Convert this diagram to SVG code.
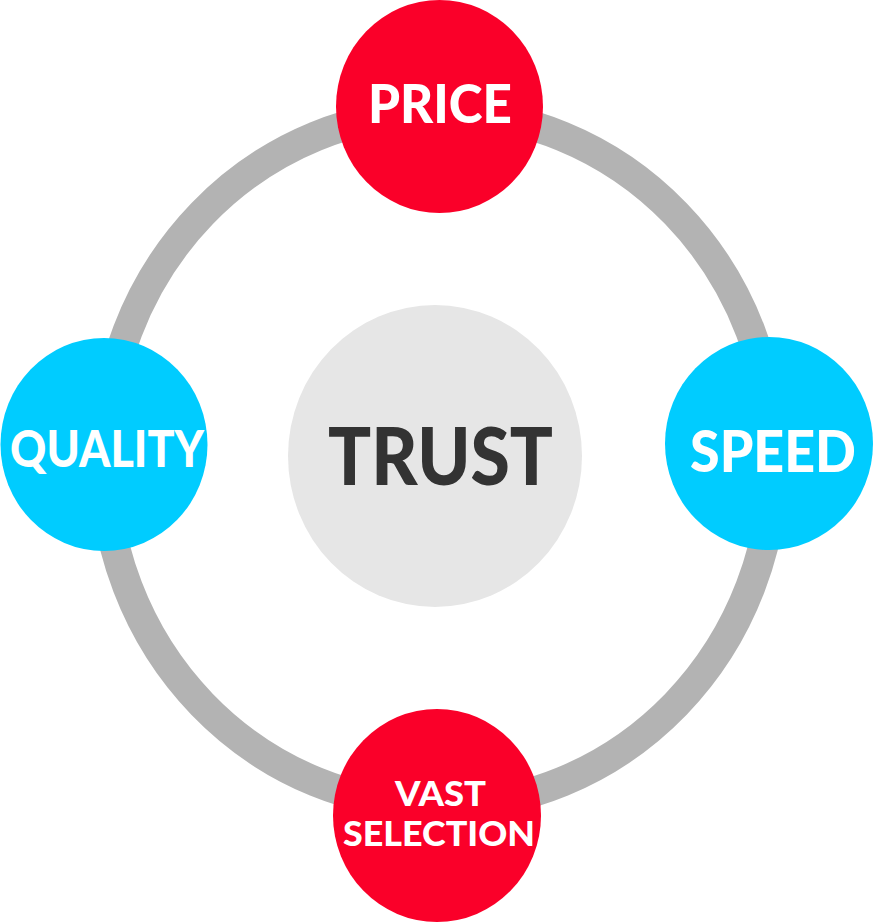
<svg xmlns="http://www.w3.org/2000/svg" width="873" height="923" viewBox="0 0 873 923">
  <style>
    .ring { fill: none; stroke: #B3B3B3; stroke-width: 30; }
    .red { fill: #FA0029; }
    .blue { fill: #00CCFF; }
    .core { fill: #E6E6E6; }
    .lbl { font-family: Lato, "Open Sans", "Liberation Sans", sans-serif; font-weight: 900; fill: #FFFFFF; text-anchor: middle; }
    .trust { font-family: Lato, "Open Sans", "Liberation Sans", sans-serif; font-weight: 900; fill: #333333; text-anchor: middle; }
  </style>
  <rect width="873" height="923" fill="#FFFFFF"/>
  <g id="connectors">
    <ellipse class="ring" cx="439" cy="459" rx="335" ry="347"/>
  </g>
  <g id="trust">
    <ellipse class="core" cx="435" cy="456" rx="147" ry="151"/>
    <text class="trust" x="440.5" y="485" font-size="80" textLength="225" lengthAdjust="spacingAndGlyphs">TRUST</text>
  </g>
  <g id="price">
    <ellipse class="red" cx="439.5" cy="106.5" rx="103.5" ry="106.5"/>
    <text class="lbl" x="440" y="123" font-size="53" textLength="144" lengthAdjust="spacingAndGlyphs">PRICE</text>
  </g>
  <g id="quality">
    <ellipse class="blue" cx="104" cy="444.5" rx="103.5" ry="106.5"/>
    <text class="lbl" x="107" y="467" font-size="51" textLength="194" lengthAdjust="spacingAndGlyphs">QUALITY</text>
  </g>
  <g id="speed">
    <ellipse class="blue" cx="769" cy="443.5" rx="104" ry="106.5"/>
    <text class="lbl" x="773" y="472" font-size="58" textLength="166" lengthAdjust="spacingAndGlyphs">SPEED</text>
  </g>
  <g id="vast-selection">
    <ellipse class="red" cx="437" cy="815.5" rx="104" ry="106.5"/>
    <text class="lbl" font-size="34"><tspan x="440.5" y="806" textLength="91" lengthAdjust="spacingAndGlyphs">VAST</tspan><tspan x="439" y="846" textLength="192" lengthAdjust="spacingAndGlyphs">SELECTION</tspan></text>
  </g>
</svg>
